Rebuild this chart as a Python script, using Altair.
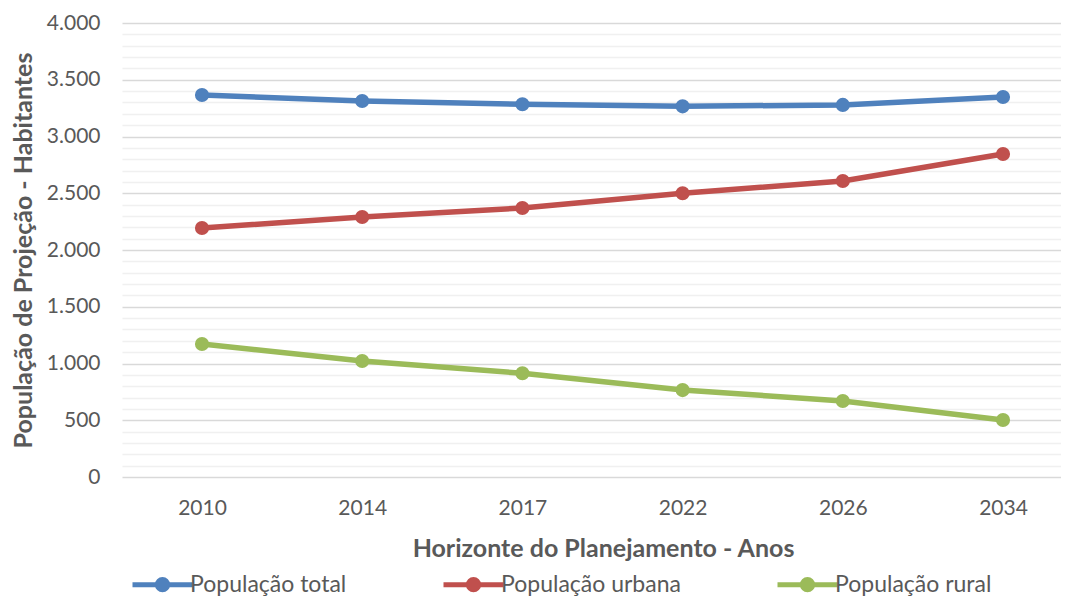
import json
import altair as alt
import pandas as pd

anos = ["2010", "2014", "2017", "2022", "2026", "2034"]
pop_total = [3366, 3313, 3284, 3266, 3278, 3348]
pop_urbana = [2194, 2291, 2370, 2500, 2608, 2846]
pop_rural = [1172, 1022, 914, 766, 670, 502]
series = ["População total", "População urbana", "População rural"]
cores = ["#4f81bd", "#c0504d", "#9bbb59"]
y_ticks = list(range(0, 4001, 100))

rows = []
for nome, vals in zip(series, [pop_total, pop_urbana, pop_rural]):
    for i, (a, v) in enumerate(zip(anos, vals)):
        rows.append({"idx": i, "ano": a, "valor": v, "serie": nome})
df = pd.DataFrame(rows)

FONT = "Lato"
GRAY = "#595959"

x_enc = alt.X(
    "idx:Q",
    scale=alt.Scale(domain=[-0.4994, 5.3620], nice=False, zero=False),
    axis=alt.Axis(
        title="Horizonte do Planejamento - Anos",
        values=list(range(len(anos))),
        labelExpr=json.dumps(anos) + "[datum.value]",
        labelAngle=0,
        ticks=False,
        tickSize=0,
        domain=False,
        grid=False,
        labelPadding=20,
        labelFontSize=21,
        titleFontSize=25,
        titleFontWeight="bold",
        titleX=481,
        titleY=79,
        titleAlign="center",
        titleBaseline="alphabetic",
    ),
)
y_enc = alt.Y(
    "valor:Q",
    scale=alt.Scale(domain=[0, 4000], nice=False),
    axis=alt.Axis(
        title="População de Projeção - Habitantes",
        values=y_ticks,
        labelExpr="datum.value % 500 === 0 ? replace(format(datum.value, ','), ',', '.') : ''",
        ticks=False,
        tickSize=0,
        domain=False,
        grid=True,
        gridColor=alt.condition("datum.value % 500 === 0", alt.value("#d9d9d9"), alt.value("#f0f0f0")),
        gridWidth=1.5,
        labelPadding=22,
        labelFontSize=21,
        titleFontSize=25,
        titleFontWeight="bold",
        titleX=-99,
        titleBaseline="middle",
    ),
)

legend = alt.Legend(
    title=None,
    orient="none",
    direction="horizontal",
    legendX=14,
    legendY=535,
    symbolType="M-1.25,0L1.25,0 M-0.2125,0A0.2125,0.2125 0 1,1 0.2125,0A0.2125,0.2125 0 1,1 -0.2125,0 M-0.075,0A0.075,0.075 0 1,1 0.075,0A0.075,0.075 0 1,1 -0.075,0",
    symbolSize=2304,
    symbolStrokeWidth=5,
    symbolOpacity=1,
    labelFontSize=23,
    labelColor=GRAY,
    labelFont=FONT,
    labelOffset=1,
    labelLimit=400,
    columnPadding=86,
)
color_enc = alt.Color(
    "serie:N",
    scale=alt.Scale(domain=series, range=cores),
    sort=series,
    legend=legend,
)

lines = alt.Chart(df).mark_line(strokeWidth=5.5).encode(x=x_enc, y=y_enc, color=color_enc)
points = alt.Chart(df).mark_point(filled=True, size=200, opacity=1).encode(x=x_enc, y=y_enc, color=color_enc)

chart = (
    alt.layer(lines, points)
    .properties(
        width=939,
        height=454,
        autosize=alt.AutoSizeParams(type="none"),
        padding={"left": 114, "top": 15, "right": 0, "bottom": 119},
    )
    .configure_view(stroke=None)
    .configure_axis(labelFont=FONT, titleFont=FONT, labelColor=GRAY, titleColor=GRAY)
    .configure_legend(labelFont=FONT)
)

chart.save("out.html", embed_options={"renderer": "svg", "actions": False})
